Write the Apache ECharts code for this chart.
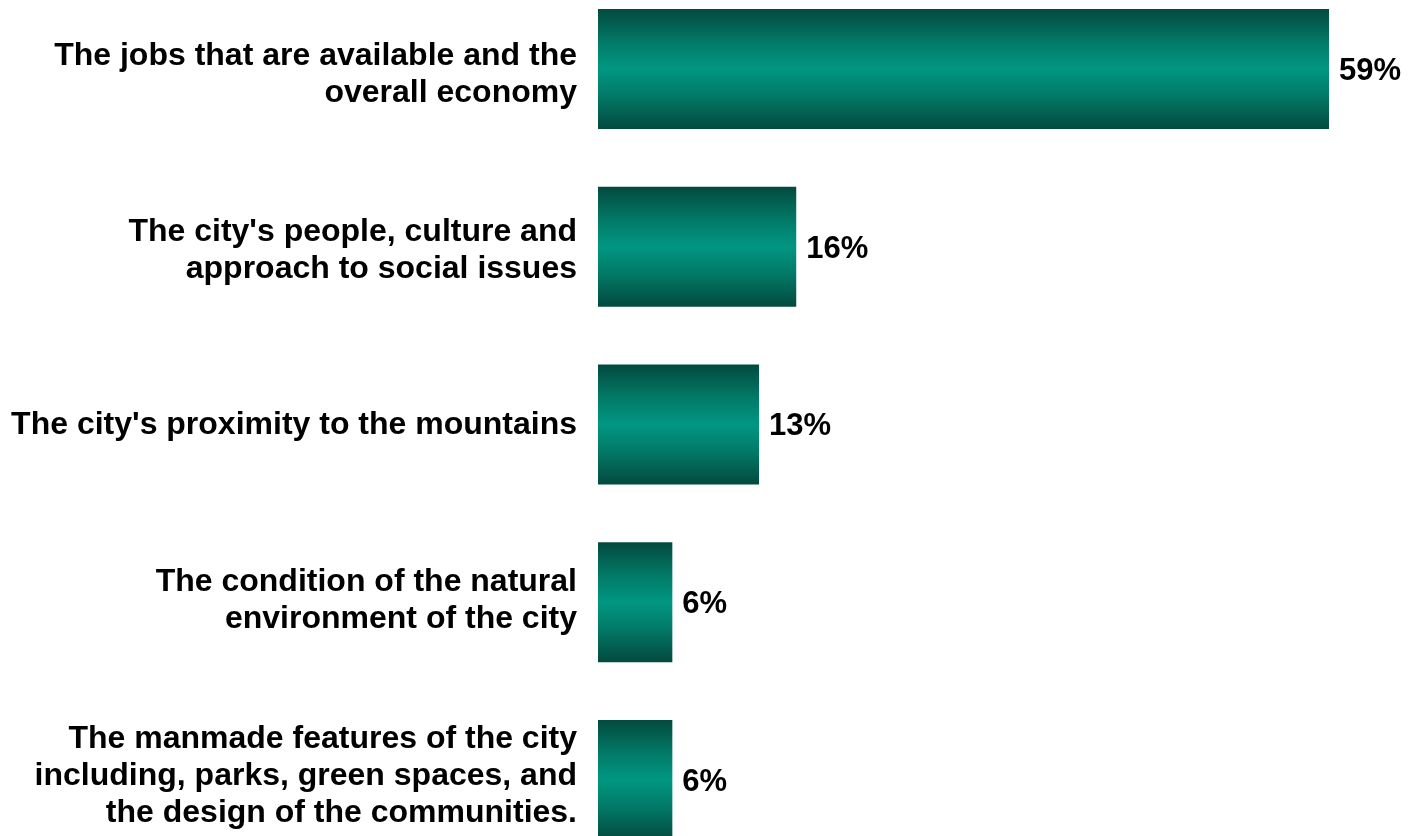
<!DOCTYPE html>
<html>
<head>
<meta charset="utf-8">
<script src="https://cdn.jsdelivr.net/npm/echarts@6/dist/echarts.min.js"></script>
<style>
  html, body { margin: 0; padding: 0; background: #ffffff; }
  #chart { width: 1408px; height: 836px; }
</style>
</head>
<body>
<div id="chart"></div>
<script>
// Reasons for living in the city, share of respondents (%)
const categories = [
  "The jobs that are available and the\noverall economy",
  "The city's people, culture and\napproach to social issues",
  "The city's proximity to the mountains",
  "The condition of the natural\nenvironment of the city",
  "The manmade features of the city\nincluding, parks, green spaces, and\nthe design of the communities."
];
const shares = [59, 16, 13, 6, 6];

const chart = echarts.init(document.getElementById('chart'), null, { renderer: 'canvas' });

// Vertical shading: dark edges, bright teal centre
const barFill = new echarts.graphic.LinearGradient(0, 0, 0, 1, [
  { offset: 0.00, color: '#024a3e' },
  { offset: 0.28, color: '#027a68' },
  { offset: 0.50, color: '#009782' },
  { offset: 0.72, color: '#027a68' },
  { offset: 1.00, color: '#024a3e' }
]);

const labelFont = '"Liberation Sans", Arial, Helvetica, sans-serif';

chart.setOption({
  animation: false,
  backgroundColor: '#ffffff',
  grid: [
    // bars
    {
      left: 598,
      top: -20,
      width: 65 * 12.39,
      height: 5 * 177.75,
      containLabel: false,
      outerBoundsMode: 'none'
    },
    // category text column, spaced slightly tighter than the bars
    {
      left: 598,
      top: -12.5,
      width: 100,
      height: 876,
      containLabel: false,
      outerBoundsMode: 'none'
    }
  ],
  xAxis: [
    { type: 'value', gridIndex: 0, min: 0, max: 65, show: false },
    { type: 'value', gridIndex: 1, min: 0, max: 1, show: false }
  ],
  yAxis: [
    {
      type: 'category',
      gridIndex: 0,
      data: categories,
      inverse: true,
      axisLine: { show: false },
      axisTick: { show: false },
      splitLine: { show: false },
      axisLabel: { show: false }
    },
    {
      type: 'category',
      gridIndex: 1,
      data: categories,
      inverse: true,
      axisLine: { show: false },
      axisTick: { show: false },
      splitLine: { show: false },
      axisLabel: {
        margin: 21,
        color: '#000000',
        fontFamily: labelFont,
        fontWeight: 'bold',
        fontSize: 32,
        lineHeight: 37,
        align: 'right'
      }
    }
  ],
  series: [{
    type: 'bar',
    xAxisIndex: 0,
    yAxisIndex: 0,
    data: shares,
    barWidth: 120,
    itemStyle: { color: barFill },
    label: {
      show: true,
      position: 'right',
      distance: 10,
      offset: [0, 2.5],
      formatter: '{c}%',
      color: '#000000',
      fontFamily: labelFont,
      fontWeight: 'bold',
      fontSize: 31
    }
  }]
});
</script>
</body>
</html>
